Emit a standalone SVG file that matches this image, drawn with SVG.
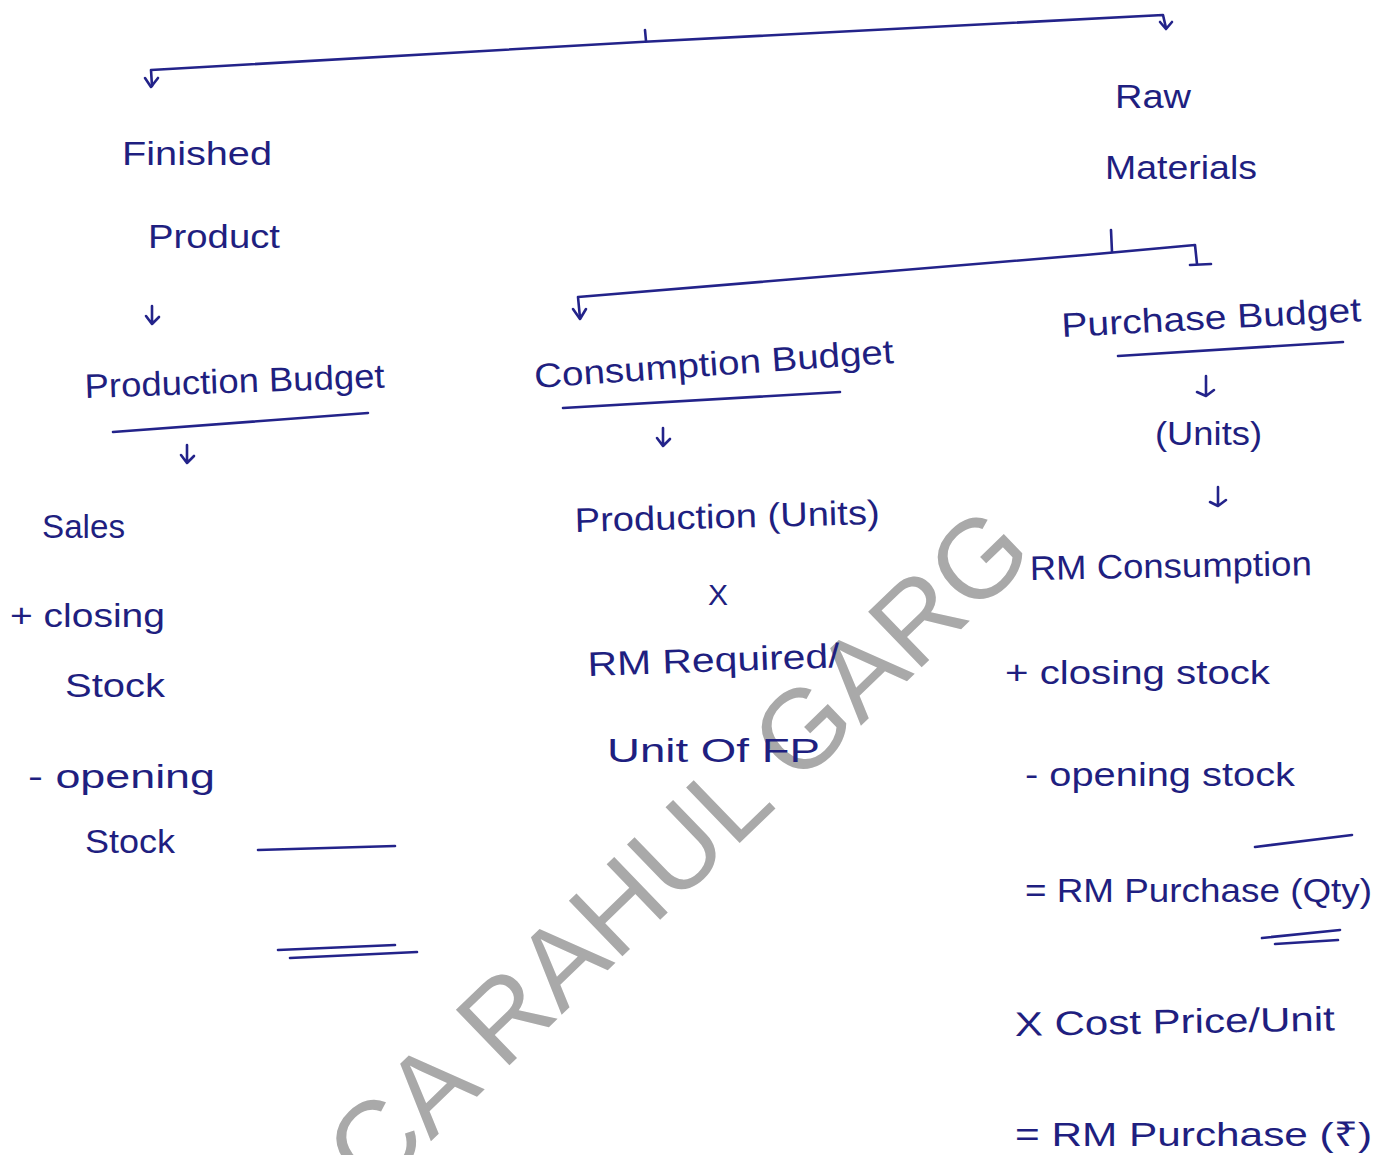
<svg xmlns="http://www.w3.org/2000/svg" width="1392" height="1155" viewBox="0 0 1392 1155">
<style>
.t{font-family:"Liberation Sans","Noto Sans","DejaVu Sans",sans-serif;font-size:34px;fill:#1f1f80;}
.c{fill:none;stroke:#23238a;stroke-width:2.6;stroke-linecap:round;stroke-linejoin:round;}
.wm{font-family:"Liberation Sans","DejaVu Sans",sans-serif;font-size:112px;fill:#a9a9a9;}
</style>
<rect width="1392" height="1155" fill="#ffffff"/>

<g id="watermark">
  <text class="wm" x="0" y="0" textLength="924" lengthAdjust="spacingAndGlyphs" transform="translate(372,1198) rotate(-44)">CA RAHUL GARG</text>
</g>

<g id="connectors">
  <!-- top split -->
  <path class="c" d="M152,86 L151,70 L640,42 L1163,15 L1166,28" />
  <path class="c" d="M145,78 L151,87 L158,78" />
  <path class="c" d="M1160,22 L1166,29 L1172,22" />
  <path class="c" d="M645,30 L646,41" />
  <!-- second split -->
  <path class="c" d="M580,318 L578,297 L1085,255 L1195,245 L1197,264" />
  <path class="c" d="M573,309 L580,319 L586,309" />
  <path class="c" d="M1190,265 L1211,264" />
  <path class="c" d="M1111,230 L1112,252" />
  <!-- small down arrows -->
  <path class="c" d="M152,306 L152,323 M146,316 L152,324 L159,317" />
  <path class="c" d="M187,445 L187,462 M181,455 L187,463 L194,456" />
  <path class="c" d="M663,428 L663,445 M657,438 L663,446 L670,439" />
  <path class="c" d="M1206,376 L1206,395 M1197,392 L1206,396 L1214,390" />
  <path class="c" d="M1218,487 L1218,505 M1210,502 L1218,506 L1226,500" />
  <!-- underlines -->
  <path class="c" d="M113,432 L368,413" />
  <path class="c" d="M563,408 L840,392" />
  <path class="c" d="M1118,356 L1343,342" />
  <!-- totals -->
  <path class="c" d="M258,850 L395,846" />
  <path class="c" d="M278,950 L395,945" />
  <path class="c" d="M290,958 L417,952" />
  <path class="c" d="M1255,847 L1352,835" />
  <path class="c" d="M1262,938 L1340,930" />
  <path class="c" d="M1275,944 L1338,940" />
</g>

<g id="raw-materials">
  <text class="t" x="1115" y="108" textLength="76" lengthAdjust="spacingAndGlyphs">Raw</text>
  <text class="t" x="1105" y="179" textLength="152" lengthAdjust="spacingAndGlyphs">Materials</text>
</g>
<g id="finished-product">
  <text class="t" x="122" y="165" textLength="150" lengthAdjust="spacingAndGlyphs">Finished</text>
  <text class="t" x="148" y="248" textLength="132" lengthAdjust="spacingAndGlyphs">Product</text>
</g>
<g id="production-budget">
  <text class="t" x="85" y="398" textLength="300" lengthAdjust="spacingAndGlyphs" transform="rotate(-2 85 398)">Production Budget</text>
</g>
<g id="production-formula">
  <text class="t" x="42" y="538" textLength="83" lengthAdjust="spacingAndGlyphs">Sales</text>
  <text class="t" x="10" y="627" textLength="155" lengthAdjust="spacingAndGlyphs">+ closing</text>
  <text class="t" x="65" y="697" textLength="100" lengthAdjust="spacingAndGlyphs">Stock</text>
  <text class="t" x="28" y="788" textLength="187" lengthAdjust="spacingAndGlyphs">- opening</text>
  <text class="t" x="85" y="853" textLength="90" lengthAdjust="spacingAndGlyphs">Stock</text>
</g>
<g id="consumption-budget">
  <text class="t" x="535" y="388" textLength="360" lengthAdjust="spacingAndGlyphs" transform="rotate(-4 535 388)">Consumption Budget</text>
</g>
<g id="consumption-formula">
  <text class="t" x="575" y="532" textLength="305" lengthAdjust="spacingAndGlyphs" transform="rotate(-1.5 575 532)">Production (Units)</text>
  <text class="t" x="708" y="605" style="font-size:30px">X</text>
  <text class="t" x="588" y="676" textLength="252" lengthAdjust="spacingAndGlyphs" transform="rotate(-2 588 676)">RM Required/</text>
  <text class="t" x="607" y="762" textLength="213" lengthAdjust="spacingAndGlyphs">Unit Of FP</text>
</g>
<g id="purchase-budget">
  <text class="t" x="1062" y="337" textLength="300" lengthAdjust="spacingAndGlyphs" transform="rotate(-3 1062 337)">Purchase Budget</text>
  <text class="t" x="1155" y="445" textLength="107" lengthAdjust="spacingAndGlyphs">(Units)</text>
</g>
<g id="purchase-formula">
  <text class="t" x="1030" y="580" textLength="282" lengthAdjust="spacingAndGlyphs" transform="rotate(-1 1030 580)">RM Consumption</text>
  <text class="t" x="1005" y="684" textLength="265" lengthAdjust="spacingAndGlyphs">+ closing stock</text>
  <text class="t" x="1025" y="786" textLength="270" lengthAdjust="spacingAndGlyphs">- opening stock</text>
  <text class="t" x="1025" y="902" textLength="347" lengthAdjust="spacingAndGlyphs">= RM Purchase (Qty)</text>
  <text class="t" x="1015" y="1036" textLength="320" lengthAdjust="spacingAndGlyphs" transform="rotate(-1 1015 1036)">X Cost Price/Unit</text>
  <text class="t" x="1015" y="1146" textLength="357" lengthAdjust="spacingAndGlyphs">= RM Purchase (₹)</text>
</g>
</svg>
